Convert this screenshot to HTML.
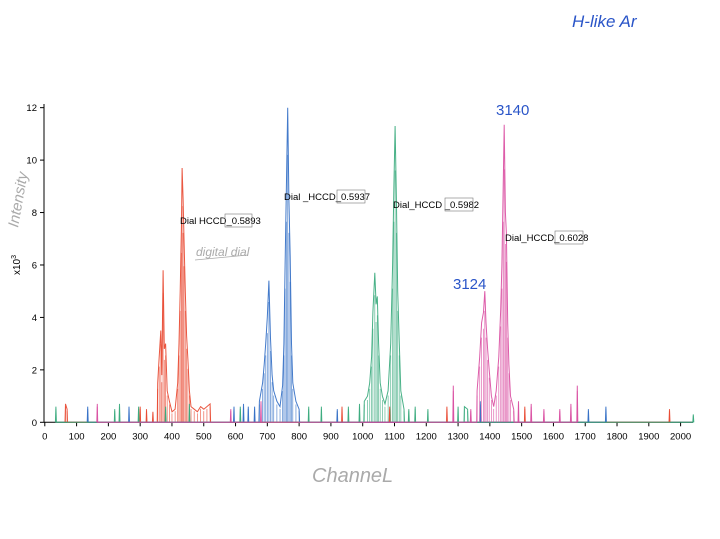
<!DOCTYPE html>
<html><head><meta charset="utf-8"><style>
body{margin:0;background:#fff;width:720px;height:534px;overflow:hidden;font-family:"Liberation Sans",sans-serif}
svg text{font-family:"Liberation Sans",sans-serif}
</style></head><body>
<svg id="chart" width="720" height="534" viewBox="0 0 720 534" xmlns="http://www.w3.org/2000/svg">
<g id="axes"></g>
<g id="series"></g>
<g>
<text x="572" y="27" font-size="17" fill="#2a55c8" font-style="italic">H-like Ar</text>
<text x="496" y="115" font-size="15" fill="#2a55c8">3140</text>
<text x="453" y="289" font-size="15" fill="#2a55c8">3124</text>
<text transform="translate(18,228) rotate(-80)" font-size="15" fill="#aaa" font-style="italic">Intensity</text>
<text transform="translate(20,275) rotate(-90)" font-size="10" fill="#000">x10<tspan dy="-4" font-size="7">3</tspan></text>
<text x="312" y="482" font-size="20" fill="#aaa" font-style="italic">ChanneL</text>
<text x="196" y="256" font-size="12" fill="#aaa" font-style="italic">digital dial</text>
<line x1="195" y1="260" x2="248" y2="255" stroke="#aaa" stroke-width="0.8"/>
<text x="180" y="224" font-size="9.5" fill="#000">Dial HCCD_0.5893</text>
<rect x="225" y="214" width="27" height="13" fill="none" stroke="#777" stroke-width="0.6"/>
<text x="284" y="200" font-size="9.5" fill="#000">Dial _HCCD_0.5937</text>
<rect x="337" y="190" width="28" height="13" fill="none" stroke="#777" stroke-width="0.6"/>
<text x="393" y="208" font-size="9.5" fill="#000">Dial_HCCD _0.5982</text>
<rect x="445" y="198" width="28" height="13" fill="none" stroke="#777" stroke-width="0.6"/>
<text x="505" y="241" font-size="9.5" fill="#000">Dial_HCCD_0.6028</text>
<rect x="555" y="231" width="28" height="13" fill="none" stroke="#777" stroke-width="0.6"/>
</g>
</svg>
<script>
const xTicks=[0,100,200,300,400,500,600,700,800,900,1000,1100,1200,1300,1400,1500,1600,1700,1800,1900,2000];
const yTicks=[0,2,4,6,8,10,12];
const seriesNames=["0.5893","0.5937","0.5982","0.6028"];
const seriesColors=["#e8452c","#2f6cc4","#35a87a","#d94aa0"];
const redCh=[65,70,300,320,340,355,360,365,368,372,376,380,385,392,400,410,418,422,426,430,432,435,438,442,446,450,455,460,470,480,490,500,510,520,935,1085,1265,1510,1965];
const redVal=[0.7,0.5,0.6,0.5,0.4,1.5,2.5,3.5,1.8,5.8,2.8,3.0,1.2,0.8,0.4,0.5,1.5,3,5,7.6,9.7,8.5,7,5,3.3,2.4,1.2,0.6,0.5,0.4,0.6,0.5,0.6,0.7,0.6,0.6,0.6,0.6,0.5];
const blueCh=[135,265,595,625,640,660,675,685,690,695,700,705,710,715,720,730,740,748,752,756,760,764,768,772,776,780,790,800,920,1370,1710,1765];
const blueVal=[0.6,0.6,0.6,0.7,0.6,0.6,0.8,1.5,2.2,3.0,4.0,5.4,3.2,1.8,1.2,0.8,0.6,1.4,3,6,9,12,8.5,6.3,3,1.5,0.8,0.5,0.5,0.8,0.5,0.6];
const greenCh=[35,220,235,295,380,455,615,830,870,955,990,1005,1015,1022,1028,1032,1038,1042,1046,1050,1055,1062,1070,1080,1088,1094,1098,1102,1106,1110,1115,1120,1130,1145,1165,1205,1300,1320,1330,2040];
const greenVal=[0.6,0.5,0.7,0.6,0.6,0.7,0.6,0.6,0.6,0.6,0.7,0.8,1,1.5,2.5,4.2,5.7,4.5,4.8,3,1.5,1,0.7,1.2,3,6,9,11.3,8.5,5,3,1.2,0.5,0.5,0.6,0.5,0.6,0.6,0.5,0.3];
const magCh=[165,585,680,1285,1340,1360,1368,1374,1380,1384,1388,1393,1398,1405,1412,1420,1428,1434,1438,1442,1445,1449,1452,1456,1460,1465,1475,1490,1530,1570,1620,1655,1675];
const magVal=[0.7,0.5,0.8,1.4,0.5,1.2,2.5,3.8,4.2,5,3.8,2.8,2,1,0.6,1.2,2.5,4.3,6,9,11.35,8,7.2,3.8,2.2,1,0.5,0.8,0.7,0.5,0.5,0.7,1.4];
const NS="http://www.w3.org/2000/svg";
const X0=44.8,XS=0.3179,Y0=422.3,YS=26.22;
function xs(c){return X0+c*XS;}
function ys(v){return Y0-v*YS;}
const axes=document.getElementById('axes');
function mk(tag,attrs,parent){const e=document.createElementNS(NS,tag);for(const k in attrs)e.setAttribute(k,attrs[k]);parent.appendChild(e);return e;}
const xl=mk('line',{x1:44,y1:Y0,x2:693,y2:Y0,stroke:'#000','stroke-width':1},axes);


const yl=mk('line',{x1:44,y1:Y0,x2:44,y2:104,stroke:'#000','stroke-width':1},axes);


xTicks.forEach(t=>{
  mk('line',{x1:xs(t),y1:Y0,x2:xs(t),y2:Y0+4,stroke:'#000'},axes);
  const tx=mk('text',{x:xs(t),y:Y0+17,'font-size':9.5,'text-anchor':'middle'},axes);
  tx.textContent=t;
  
  
});
yTicks.forEach(t=>{
  mk('line',{x1:40,y1:ys(t),x2:44,y2:ys(t),stroke:'#000'},axes);
  const tx=mk('text',{x:37,y:ys(t)+3.5,'font-size':9.5,'text-anchor':'end'},axes);
  tx.textContent=t;
  
  
});
const sg=document.getElementById('series');
[[redCh,redVal],[blueCh,blueVal],[greenCh,greenVal],[magCh,magVal]].forEach((s,i)=>{
  const ch=s[0],val=s[1];let pts=[];let prev=-999;
  for(let k=0;k<ch.length;k++){
    if(ch[k]-prev>12){ if(prev>-999)pts.push([xs(prev+1.5),Y0]); pts.push([xs(ch[k]-1.5),Y0]); }
    pts.push([xs(ch[k]),ys(val[k])]);prev=ch[k];
  }
  pts.push([xs(prev+1.5),Y0]);
  const p=mk('polyline',{points:pts.map(q=>q[0].toFixed(1)+','+q[1].toFixed(1)).join(' '),fill:'none',stroke:seriesColors[i],'stroke-width':1,'stroke-opacity':0.9},sg);
  
  
  for(let k=0;k<ch.length;k++){
    const sp=mk('line',{x1:xs(ch[k]),y1:Y0,x2:xs(ch[k]),y2:ys(val[k]*0.85),stroke:seriesColors[i],'stroke-width':0.8,'stroke-opacity':0.7},sg);
    
    
  }
});
</script>
</body></html>
